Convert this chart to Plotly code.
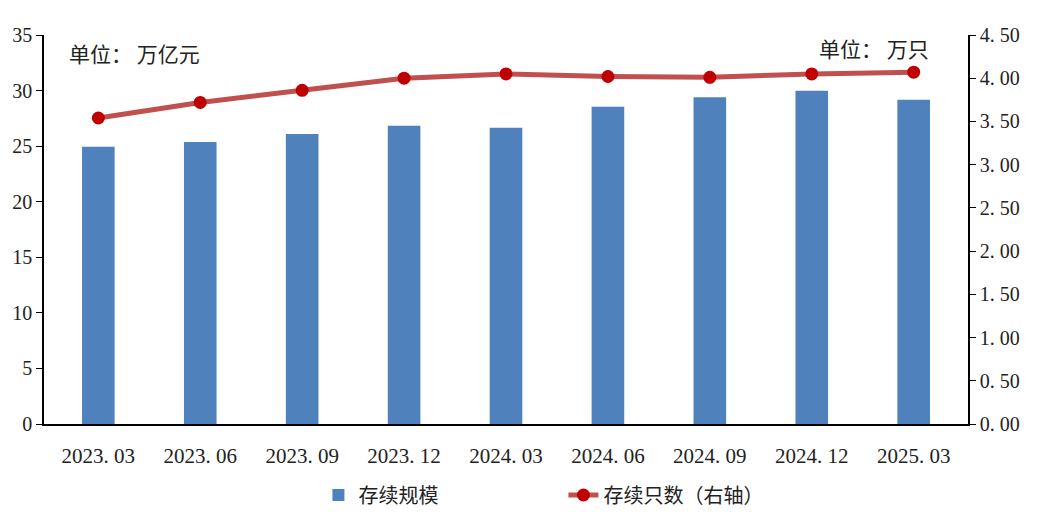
import plotly.graph_objects as go

# 季度末
quarters = ["2023.03", "2023.06", "2023.09", "2023.12", "2024.03",
            "2024.06", "2024.09", "2024.12", "2025.03"]
# 存续规模（万亿元）
scale_values = [24.95, 25.37, 26.09, 26.84, 26.66, 28.55, 29.39, 29.99, 29.18]
# 存续只数（万只，右轴）
count_values = [3.54, 3.72, 3.86, 4.00, 4.05, 4.02, 4.01, 4.05, 4.07]

left_ticks = list(range(0, 36, 5))
right_ticks = [i * 0.5 for i in range(10)]

FONT = "Liberation Serif, Noto Sans CJK SC, serif"
CJK = "Noto Sans CJK SC, sans-serif"

fig = go.Figure()
fig.add_trace(go.Bar(
    x=quarters, y=scale_values, name="存续规模",
    marker={"color": "#4F81BD", "line": {"width": 0}},
    yaxis="y",
))
fig.add_trace(go.Scatter(
    x=quarters, y=count_values, name="存续只数（右轴）",
    mode="lines+markers",
    line={"color": "#C0504D", "width": 5},
    marker={"color": "#C00000", "size": 13},
    yaxis="y2",
))

fig.update_layout(
    width=1048, height=522,
    paper_bgcolor="white", plot_bgcolor="white",
    # page body adds 8px offset, margins compensate
    margin={"l": 36, "r": 88, "t": 27, "b": 106, "autoexpand": False},
    font={"family": FONT, "size": 20, "color": "#222"},
    bargap=0.68,
    showlegend=True,
    legend={
        "orientation": "h", "x": 0.297, "xanchor": "left",
        "yref": "container", "y": 0.067, "yanchor": "middle",
        "font": {"family": CJK, "size": 20},
        "entrywidth": 200, "entrywidthmode": "pixels",
    },
    xaxis={
        "showline": True, "linecolor": "black", "linewidth": 2,
        "ticks": "", "showgrid": False, "automargin": False,
        "ticktext": [q.replace(".", ". ") for q in quarters],
        "tickvals": quarters, "ticklabelstandoff": 12,
        "tickfont": {"family": FONT, "size": 21},
    },
    yaxis={
        "range": [0, 35], "tickvals": left_ticks, "automargin": False,
        "showline": True, "linecolor": "black", "linewidth": 1.5,
        "ticks": "outside", "ticklen": 6, "tickcolor": "black",
        "showgrid": False, "zeroline": False,
    },
    yaxis2={
        "range": [0, 4.5], "tickvals": right_ticks, "automargin": False,
        "ticktext": [f"{v:.2f}".replace(".", ". ") for v in right_ticks],
        "overlaying": "y", "side": "right",
        "showline": True, "linecolor": "black", "linewidth": 1.5,
        "ticks": "outside", "ticklen": 6, "tickcolor": "black",
        "showgrid": False, "zeroline": False,
    },
)

fig.add_annotation(text="单位： 万亿元", xref="paper", yref="paper",
                   x=0.025, y=0.998, xanchor="left", yanchor="top",
                   showarrow=False, font={"family": CJK, "size": 21})
fig.add_annotation(text="单位： 万只", xref="paper", yref="paper",
                   x=0.96, y=1.01, xanchor="right", yanchor="top",
                   showarrow=False, font={"family": CJK, "size": 21})

fig.write_html("out.html")
